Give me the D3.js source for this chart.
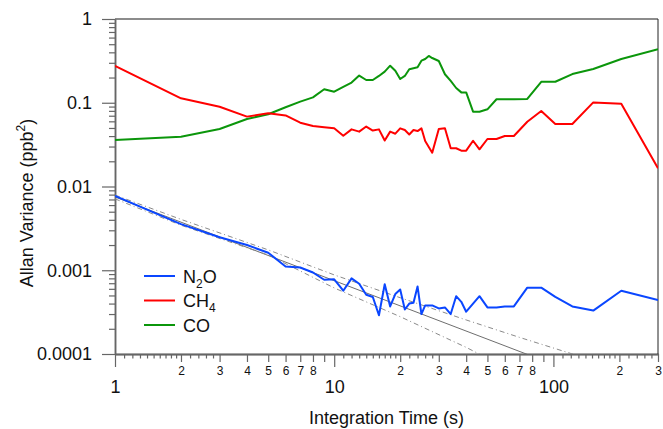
<!DOCTYPE html>
<html>
<head>
<meta charset="utf-8">
<script src="https://cdn.jsdelivr.net/npm/d3@7"></script>
<style>
  html, body { margin: 0; padding: 0; background: #fff; }
  svg { display: block; font-family: "Liberation Sans", Arial, sans-serif; }
</style>
</head>
<body>
<div id="chart"></div>
<script>
// Integration times (s), shared by the three gases
const tau = [1, 2, 3, 4, 5, 6, 7, 8, 9, 10, 11, 12, 13, 14, 15, 16, 17, 18, 19, 20,
  21, 22, 23, 24, 25, 26, 27, 28, 30, 32, 34, 36, 38, 40, 43, 46, 50, 55, 60, 66,
  76, 88, 102, 122, 152, 204, 300];

// Allan variance (ppb^2)
const n2o = [0.0077, 0.00355, 0.00248, 0.0020, 0.00162, 0.00111, 0.00108, 0.00094, 0.00077, 0.00078,
  0.00057, 0.00080, 0.00069, 0.00051, 0.00048, 0.00029, 0.00068, 0.00037, 0.00052, 0.00059,
  0.00034, 0.00040, 0.00041, 0.00064, 0.00030, 0.00038, 0.00038, 0.00038, 0.00035, 0.00036,
  0.00030, 0.00049, 0.00042, 0.00032, 0.00040, 0.00049, 0.00036, 0.00036, 0.00037, 0.00037,
  0.00062, 0.00062, 0.00048, 0.00037, 0.00033, 0.00057, 0.00044];
const ch4 = [0.275, 0.113, 0.0897, 0.0683, 0.0748, 0.0706, 0.0578, 0.0528, 0.0510, 0.0495,
  0.0404, 0.0481, 0.0452, 0.0520, 0.0465, 0.0481, 0.0354, 0.0452, 0.0427, 0.0495,
  0.0472, 0.0418, 0.0472, 0.0459, 0.0495, 0.0350, 0.0297, 0.0253, 0.0486, 0.0495,
  0.0286, 0.0286, 0.0268, 0.0268, 0.0352, 0.0278, 0.0369, 0.0369, 0.0401, 0.0401,
  0.0594, 0.0797, 0.0557, 0.0557, 0.101, 0.0974, 0.0165];
const co = [0.0359, 0.0393, 0.0486, 0.064, 0.073, 0.0883, 0.103, 0.116, 0.145, 0.1355,
  0.155, 0.174, 0.211, 0.187, 0.187, 0.209, 0.235, 0.277, 0.241, 0.192,
  0.209, 0.251, 0.258, 0.265, 0.318, 0.333, 0.362, 0.342, 0.315, 0.219,
  0.182, 0.150, 0.133, 0.133, 0.0782, 0.0782, 0.0835, 0.110, 0.110, 0.110,
  0.111, 0.178, 0.178, 0.220, 0.253, 0.333, 0.435];

// white-noise reference line and its bounds
const refTau = [1, 80];
const refVal = [0.0075, 0.000094];
const upperTau = [1, 2, 5, 10, 20, 40, 70, 130];
const upperVal = [0.0079, 0.00405, 0.00175, 0.00088, 0.00047, 0.000255, 0.000158, 0.000095];
const lowerTau = [1, 2, 5, 10, 20, 40, 55];
const lowerVal = [0.00712, 0.00345, 0.00152, 0.000615, 0.000279, 0.00012, 0.0000783];

// axis ticks
const yTicks = [0.0001, 0.001, 0.01, 0.1, 1];
const yTickLabels = ['0.0001', '0.001', '0.01', '0.1', '1'];
const xMajor = [1, 10, 100];
const xMajorLabels = ['1', '10', '100'];
const xMid = [2, 3, 4, 5, 6, 7, 8, 9, 20, 30, 40, 50, 60, 70, 80, 90, 200, 300];
const xMidLabels = ['2', '3', '4', '5', '6', '7', '8', '', '2', '3', '4', '5', '6', '7', '8', '', '2', '3'];

const seriesNames = ['N2O', 'CH4', 'CO'];
const seriesColors = ['#0a46ff', '#ff0000', '#0b960b'];

const Chart = {
    width: 663,
    height: 429,
    left: 115, right: 658, top: 19, bottom: 354,

    render() {
        const svg = d3.select('#chart').append('svg')
            .attr('width', this.width)
            .attr('height', this.height);

        const x = d3.scaleLog().domain([1, 300]).range([this.left, this.right]);
        const y = d3.scaleLog().domain([0.0001, 1]).range([this.bottom, this.top]);

        svg.append('clipPath').attr('id', 'plot-clip')
            .append('rect')
            .attr('x', this.left).attr('y', this.top)
            .attr('width', this.right - this.left)
            .attr('height', this.bottom - this.top);

        this.drawAxes(svg, x, y);

        const plot = svg.append('g').attr('clip-path', 'url(#plot-clip)');
        const line = d3.line().x(d => x(d[0])).y(d => y(d[1]));

        // reference lines
        plot.append('path')
            .attr('d', line(d3.zip(refTau, refVal)))
            .attr('fill', 'none').attr('stroke', '#6e6e6e').attr('stroke-width', 1);
        [[upperTau, upperVal], [lowerTau, lowerVal]].forEach(([t, v]) => {
            plot.append('path')
                .attr('d', line(d3.zip(t, v)))
                .attr('fill', 'none').attr('stroke', '#8a8a8a').attr('stroke-width', 1)
                .attr('stroke-dasharray', '5,3,1,3');
        });

        // gas series, CO underneath, N2O on top
        const series = [n2o, ch4, co];
        [2, 1, 0].forEach(i => {
            plot.append('path')
                .attr('d', line(d3.zip(tau, series[i])))
                .attr('fill', 'none')
                .attr('stroke', seriesColors[i])
                .attr('stroke-width', 2)
                .attr('stroke-linejoin', 'round');
        });

        this.drawLegend(svg);
    },

    drawAxes(svg, x, y) {
        const axisColor = '#666';

        const styleAxis = (g, fontSize) => {
            g.attr('font-family', null).attr('font-size', fontSize);
            g.select('.domain').attr('stroke', axisColor).attr('stroke-width', 1.5);
            g.selectAll('.tick line').attr('stroke', axisColor).attr('stroke-width', 1.2);
            g.selectAll('.tick text').attr('fill', '#111');
        };

        // x axis: small, medium and major ticks
        const xSmall = xMajor.flatMap(d => [1.1, 1.2, 1.3, 1.4, 1.5, 1.6, 1.7, 1.8, 1.9, 2.2, 2.4, 2.6, 2.8]
            .map(m => m * d)).filter(v => v <= 300);
        const base = `translate(0,${this.bottom})`;

        svg.append('g').attr('transform', base)
            .call(d3.axisBottom(x).tickValues(xSmall).tickSize(4.5).tickSizeOuter(0).tickFormat(''))
            .call(g => styleAxis(g, 12));
        svg.append('g').attr('transform', base)
            .call(d3.axisBottom(x).tickValues(xMid).tickSize(8).tickSizeOuter(0).tickPadding(4.5)
                .tickFormat((d, i) => xMidLabels[i]))
            .call(g => styleAxis(g, 12));
        svg.append('g').attr('transform', base)
            .call(d3.axisBottom(x).tickValues(xMajor).tickSize(13).tickSizeOuter(0).tickPadding(13)
                .tickFormat((d, i) => xMajorLabels[i]))
            .call(g => styleAxis(g, 18));

        // y axis: minor and major ticks
        const yMinor = yTicks.slice(0, -1).flatMap(d => d3.range(2, 10).map(m => m * d));
        const left = `translate(${this.left},0)`;
        svg.append('g').attr('transform', left)
            .call(d3.axisLeft(y).tickValues(yMinor).tickSize(6).tickSizeOuter(0).tickFormat(''))
            .call(g => styleAxis(g, 12));
        svg.append('g').attr('transform', left)
            .call(d3.axisLeft(y).tickValues(yTicks).tickSize(13).tickSizeOuter(0).tickPadding(10)
                .tickFormat((d, i) => yTickLabels[i]))
            .call(g => styleAxis(g, 18));

        // frame top and right
        svg.append('line')
            .attr('x1', this.left).attr('x2', this.right)
            .attr('y1', this.top).attr('y2', this.top)
            .attr('stroke', axisColor).attr('stroke-width', 1.5);
        svg.append('line')
            .attr('x1', this.right).attr('x2', this.right)
            .attr('y1', this.top).attr('y2', this.bottom)
            .attr('stroke', '#222').attr('stroke-width', 1);

        // axis titles
        svg.append('text')
            .attr('x', (this.left + this.right) / 2 + 0)
            .attr('y', 424)
            .attr('text-anchor', 'middle')
            .attr('font-size', 18)
            .attr('fill', '#111')
            .text('Integration Time (s)');

        const yTitle = svg.append('text')
            .attr('transform', 'translate(33,203) rotate(-90)')
            .attr('text-anchor', 'middle')
            .attr('font-size', 18)
            .attr('fill', '#111');
        yTitle.append('tspan').text('Allan Variance (ppb');
        yTitle.append('tspan').attr('font-size', 12).attr('dy', -8).text('2');
        yTitle.append('tspan').attr('dy', 8).text(')');
    },

    drawLegend(svg) {
        const rows = [276, 300.5, 325];
        const subs = [['N', '2', 'O'], ['CH', '4', ''], ['CO', '', '']];
        rows.forEach((ry, i) => {
            svg.append('line')
                .attr('x1', 144).attr('x2', 175)
                .attr('y1', ry).attr('y2', ry)
                .attr('stroke', seriesColors[i]).attr('stroke-width', 2);
            const t = svg.append('text')
                .attr('x', 183).attr('y', ry + 6.5)
                .attr('font-size', 18).attr('fill', '#111');
            t.append('tspan').text(subs[i][0]);
            if (subs[i][1]) {
                t.append('tspan').attr('font-size', 12).attr('dy', 5).text(subs[i][1]);
                t.append('tspan').attr('dy', -5).text(subs[i][2]);
            }
            t.append('title').text(seriesNames[i]);
        });
    }
};

Chart.render();
</script>
</body>
</html>
